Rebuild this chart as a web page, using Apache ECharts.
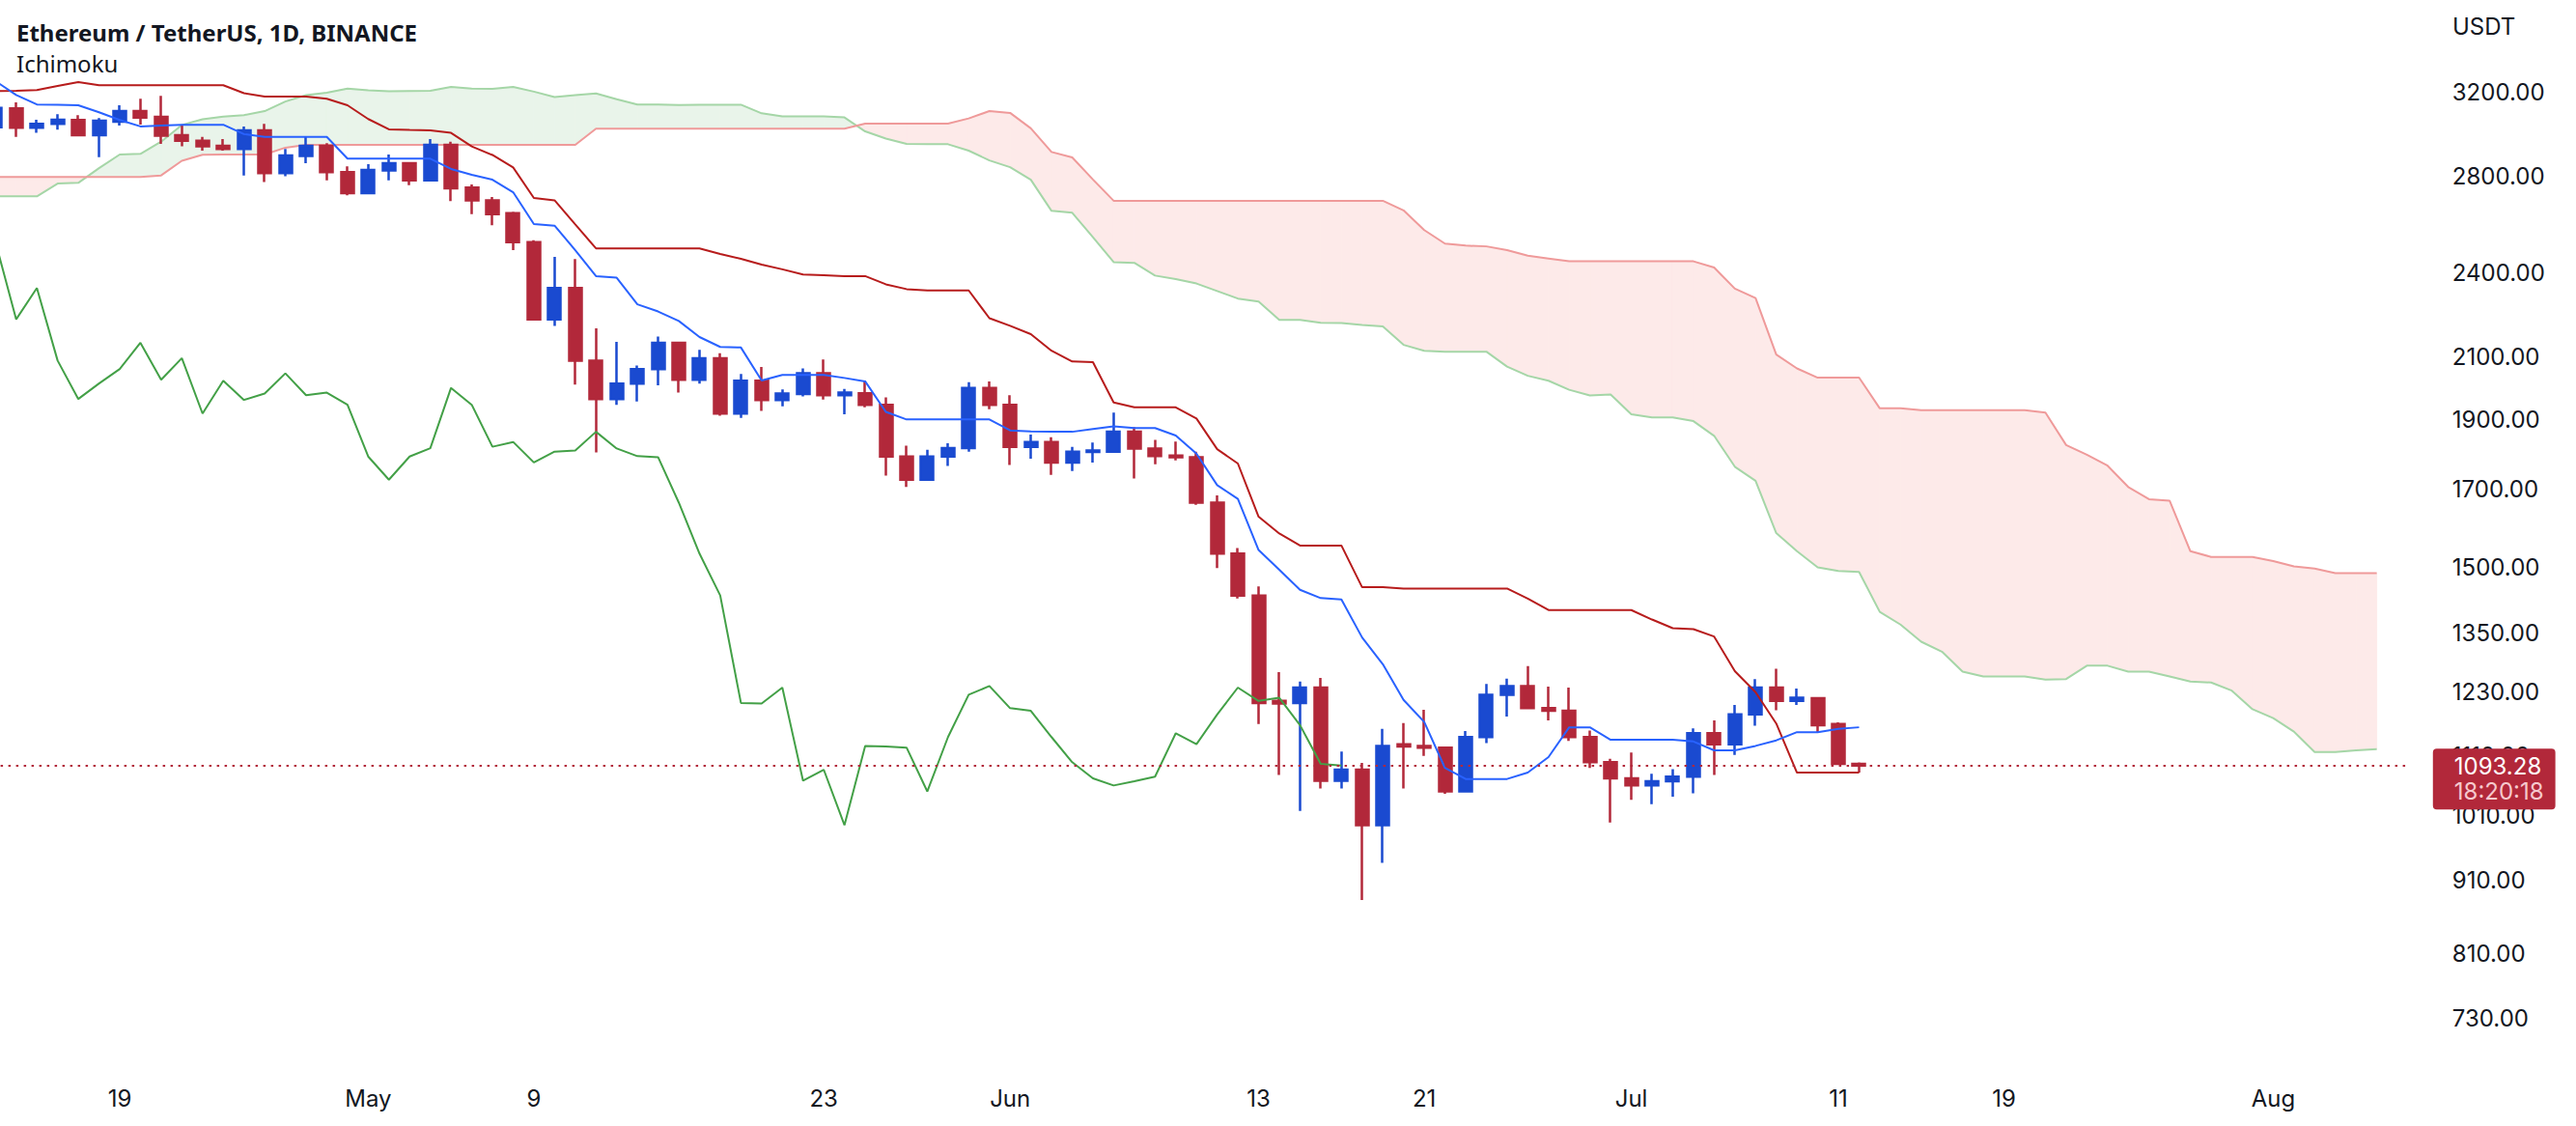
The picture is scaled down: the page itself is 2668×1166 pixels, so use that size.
<!DOCTYPE html>
<html><head><meta charset="utf-8">
<script src="https://cdn.jsdelivr.net/npm/echarts@6/dist/echarts.min.js"></script>
<style>html,body{margin:0;padding:0;background:#fff}#c{width:2668px;height:1166px}</style>
</head><body><div id="c"></div>
<script>
// ---------- DATA ----------
const firstDay = '2022-04-13';
const dayCount = 117; // Apr 13 .. Aug 7 (cloud is projected ahead)
const xLabelDates = ['2022-04-19','2022-05-01','2022-05-09','2022-05-23','2022-06-01','2022-06-13','2022-06-21','2022-07-01','2022-07-11','2022-07-19','2022-08-01'];
const xLabelTexts = ['19','May','9','23','Jun','13','21','Jul','11','19','Aug'];
const yTickValues = [3200,2800,2400,2100,1900,1700,1500,1350,1230,1110,1010,910,810,730];

const opens  = [3027,3119,3025,3043,3062,2989,3054,3106,3078,2989,2963,2939,2924,3012,2813,2891,2939,2818,2725,2825,2858,2781,2943,2749,2694,2639,2520,2228,2342,2086,1962,2011,2058,2146,2023,2094,1917,2020,1959,1978,2044,1974,1980,1944,1790,1725,1790,1814,1997,1944,1818,1832,1773,1803,1804,1862,1813,1793,1788,1663,1533,1434,1212,1208,1238,1067,1086,994,1131,1128,1125,1049,1144,1224,1241,1198,1193,1144,1099,1071,1059,1066,1074,1151,1131,1186,1238,1212,1217,1168,1096];
const highs  = [3142,3150,3063,3091,3086,3072,3135,3168,3182,3039,2981,2971,3031,3043,2924,2984,2951,2844,2854,2898,2864,2971,2958,2763,2708,2645,2528,2461,2453,2196,2149,2070,2168,2147,2122,2111,2042,2065,1992,2060,2090,1994,2021,1967,1821,1809,1828,2015,2018,1974,1854,1846,1818,1830,1920,1876,1838,1833,1804,1682,1547,1455,1269,1250,1257,1118,1098,1159,1170,1195,1127,1155,1245,1256,1281,1240,1238,1156,1105,1116,1079,1087,1160,1175,1204,1255,1276,1236,1219,1171,1098.5];
const lows   = [3017,2981,3000,3015,2984,2886,3035,3040,2948,2936,2916,2916,2803,2774,2799,2858,2781,2715,2722,2781,2760,2779,2690,2635,2589,2488,2225,2205,2008,1802,1944,1954,2005,1982,2011,1910,1904,1925,1939,1970,1960,1915,1936,1736,1705,1724,1763,1804,1930,1766,1784,1738,1749,1773,1802,1728,1768,1779,1657,1498,1427,1168,1077,1017,1054,1054,882,936,1054,1110,1045,1047,1133,1182,1197,1175,1137,1089,998,1035,1028,1040,1046,1077,1112,1165,1194,1204,1152,1096,1081];
const closes = [3122,3025,3043,3063,2989,3059,3106,3074,2986,2963,2936,2924,3012,2813,2894,2939,2818,2725,2828,2858,2781,2943,2746,2694,2635,2520,2228,2342,2086,1962,2011,2058,2146,2023,2094,1917,2020,1959,1979,2044,1974,1982,1944,1790,1725,1790,1814,1997,1944,1818,1832,1773,1804,1807,1862,1813,1791,1788,1663,1533,1434,1208,1207,1238,1067,1086,994,1128,1127,1125,1049,1144,1224,1241,1198,1193,1144,1099,1071,1059,1066,1074,1151,1131,1186,1238,1212,1218,1166,1096,1093.28];

// Ichimoku lines
const tenkan = [3258,3187,3139,3137,3135,3100,3062,3031,3035,3039,3039,3039,2994,2981,2981,2981,2981,2879,2879,2879,2879,2879,2832,2806,2784,2729,2594,2587,2488,2387,2381,2282,2256,2222,2166,2132,2130,2021,2039,2039,2039,2029,2018,1922,1899,1899,1899,1899,1899,1866,1863,1862,1862,1870,1878,1873,1873,1851,1798,1710,1673,1542,1494,1447,1428,1425,1341,1285,1214,1172,1089,1070,1070,1070,1081,1108,1162,1162,1139,1139,1139,1139,1136,1120,1120,1128,1138,1153,1153,1159,1162];
const kijun  = [3207,3208,3212,3233,3253,3237,3237,3237,3237,3237,3237,3237,3196,3179,3179,3179,3168,3135,3067,3017,3014,3012,3000,2936,2896,2839,2704,2694,2592,2495,2495,2495,2495,2495,2495,2473,2454,2431,2413,2393,2390,2387,2387,2356,2338,2333,2333,2333,2232,2205,2176,2119,2083,2081,1951,1936,1936,1936,1902,1811,1770,1626,1583,1553,1553,1553,1453,1453,1450,1450,1450,1450,1450,1450,1427,1401,1401,1401,1401,1401,1380,1361,1359,1343,1271,1229,1169,1081,1081,1081,1081];
const spanA  = [2711,2711,2711,2767,2770,2836,2898,2901,2958,3038,3066,3079,3086,3106,3154,3186,3199,3220,3211,3206,3207,3208,3228,3220,3218,3228,3204,3176,3186,3195,3165,3139,3139,
                3136,3138,3138,3138,3095,3080,3080,3080,3075,3007,2973,2948,2947,2946,2916,2871,2840,2784,2649,2641,2540,2441,2438,2389,2376,2359,2331,2303,2292,2226,2226,2216,2215,2208,2203,
                2139,2119,2116,2116,2116,2066,2036,2020,1991,1973,1976,1915,1905,1905,1894,1850,1761,1722,1584,1539,1500,1491,1489,1397,1369,1332,1311,1270,1260,1260,1260,1254,1255,1282,1282,
                1270,1270,1260,1250,1248,1232,1196,1179,1154,1117,1117,1120,1122];
const spanB  = [2796,2796,2796,2796,2796,2796,2796,2796,2803,2869,2897,2898,2898,2898,2930,2943,2943,2943,2943,2943,2943,2943,2943,2943,2943,2943,2943,2943,2943,3020,3020,3020,3020,
                3020,3020,3020,3020,3020,3020,3020,3020,3020,3045,3045,3045,3045,3045,3070,3106,3097,3022,2910,2885,2785,2692,2692,2692,2692,2692,2692,2692,2692,2692,2692,2692,2692,2692,2692,
                2651,2569,2514,2506,2503,2488,2466,2455,2444,2444,2444,2444,2444,2444,2444,2420,2340,2305,2106,2060,2030,2030,2030,1933,1933,1927,1927,1927,1927,1927,1927,1920,1823,1795,1764,
                1705,1672,1668,1539,1525,1525,1525,1515,1502,1497,1486,1486,1486];
const chikouShift = 25;
const lastPrice = 1093.28;
const lastPriceTimer = '18:20:18';

// ---------- BUILD ----------
const dates = [];
{
  const d0 = new Date(firstDay + 'T00:00:00Z');
  for (let i = 0; i < dayCount; i++) {
    const d = new Date(d0.getTime() + i * 86400000);
    dates.push(d.toISOString().slice(0, 10));
  }
}
const pad = (arr) => dates.map((_, i) => (i < arr.length ? arr[i] : null));
const candleData = opens.map((o, i) => [o, closes[i], lows[i], highs[i]]);
const chikou = dates.map((_, i) => (i + chikouShift < closes.length ? closes[i + chikouShift] : null));
const A = pad(spanA), B = pad(spanB);
const cloudData = [];
for (let i = 0; i < dayCount - 1; i++) {
  if (A[i] != null && B[i] != null && A[i + 1] != null && B[i + 1] != null) {
    cloudData.push([i, A[i], B[i], A[i + 1], B[i + 1]]);
  }
}

const UP = '#1a4ad0', DOWN = '#b2283a';
const GREEN_FILL = 'rgb(233,244,234)', RED_FILL = 'rgb(253,234,233)';
const TXT = '#131722';
const FONT = 'Inter, "Noto Sans", sans-serif';

function cloudItem(params, api) {
  const i = api.value(0);
  const a1 = api.coord([i, api.value(1)]), b1 = api.coord([i, api.value(2)]);
  const a2 = api.coord([i + 1, api.value(3)]), b2 = api.coord([i + 1, api.value(4)]);
  const d1 = a1[1] - b1[1], d2 = a2[1] - b2[1];
  const poly = (pts, up) => ({
    type: 'polygon', shape: { points: pts },
    style: { fill: up ? GREEN_FILL : RED_FILL, stroke: up ? GREEN_FILL : RED_FILL, lineWidth: 1 }
  });
  const children = [];
  if (d1 * d2 >= 0) {
    children.push(poly([a1, a2, b2, b1], (d1 + d2) < 0));
  } else {
    const t = d1 / (d1 - d2);
    const p = [a1[0] + t * (a2[0] - a1[0]), a1[1] + t * (a2[1] - a1[1])];
    children.push(poly([a1, p, b1], d1 < 0));
    children.push(poly([p, a2, b2], d2 < 0));
  }
  return { type: 'group', children };
}

const lineSeries = (name, data, color, z) => ({
  name, type: 'line', data, showSymbol: false, symbol: 'none', z,
  lineStyle: { color, width: 2 }, silent: true, connectNulls: false
});

const chart = echarts.init(document.getElementById('c'), null, { renderer: 'svg', width: 2668, height: 1166 });
chart.setOption({
  animation: false,
  backgroundColor: '#ffffff',
  grid: { left: -15.4, right: 174.2, top: 0, bottom: 66, outerBoundsMode: 'none', containLabel: false },
  xAxis: {
    type: 'category', data: dates, boundaryGap: true,
    axisLine: { show: false }, axisTick: { show: false }, splitLine: { show: false },
    axisLabel: {
      interval: (idx, val) => xLabelDates.indexOf(val) >= 0,
      formatter: (val) => { const k = xLabelDates.indexOf(val); return k >= 0 ? xLabelTexts[k] : ''; },
      color: TXT, fontSize: 24, fontFamily: FONT, margin: 25
    }
  },
  yAxis: {
    type: 'log', logBase: 10, position: 'right', min: 680.9, max: 3708.4,
    axisLine: { show: false }, axisTick: { show: false }, splitLine: { show: false },
    axisLabel: {
      customValues: yTickValues,
      formatter: (v) => Number(v).toFixed(2),
      color: TXT, fontSize: 24, fontFamily: FONT, margin: 46, align: 'left'
    }
  },
  graphic: [
    { type: 'text', x: 17, y: 33, style: { text: 'Ethereum / TetherUS, 1D, BINANCE', font: 'bold 24px "Noto Sans"', fill: TXT, verticalAlign: 'middle' } },
    { type: 'text', x: 17, y: 65.5, style: { text: 'Ichimoku', font: '24px "Noto Sans"', fill: TXT, verticalAlign: 'middle' } },
    { type: 'text', x: 2540, y: 27, style: { text: 'USDT', font: '24px Inter', fill: TXT, verticalAlign: 'middle' } }
  ],
  series: [
    { name: 'Cloud', type: 'custom', renderItem: cloudItem, data: cloudData, z: 1, silent: true,
      encode: { x: 0, y: [1, 2] } },
    lineSeries('Leading Span A', A, '#a5d6a7', 2),
    lineSeries('Leading Span B', B, '#ef9a9a', 2),
    {
      name: 'ETHUSDT', type: 'candlestick', data: candleData, z: 3, barWidth: 13.5,
      itemStyle: { color: UP, color0: DOWN, borderColor: UP, borderColor0: DOWN, borderWidth: 2.5 },
      markLine: {
        silent: true, symbol: ['none', 'none'], z: 10,
        lineStyle: { color: DOWN, type: [2.5, 5.5], width: 2 },
        data: [{ yAxis: lastPrice }],
        label: {
          show: true, position: 'end', distance: 26, offset: [0, 14],
          formatter: '{a|' + lastPrice.toFixed(2) + '}\n{b|' + lastPriceTimer + '}',
          backgroundColor: DOWN, borderRadius: 4, padding: [5, 12, 6, 22],
          rich: {
            a: { color: '#ffffff', fontSize: 24, fontFamily: FONT, lineHeight: 26 },
            b: { color: '#f6c9cd', fontSize: 24, fontFamily: FONT, lineHeight: 26 }
          }
        }
      }
    },
    lineSeries('Lagging Span', chikou, '#43a047', 4),
    lineSeries('Base Line', pad(kijun), '#b71c1c', 4),
    lineSeries('Conversion Line', pad(tenkan), '#2962ff', 4)
  ]
});
</script>
</body></html>
